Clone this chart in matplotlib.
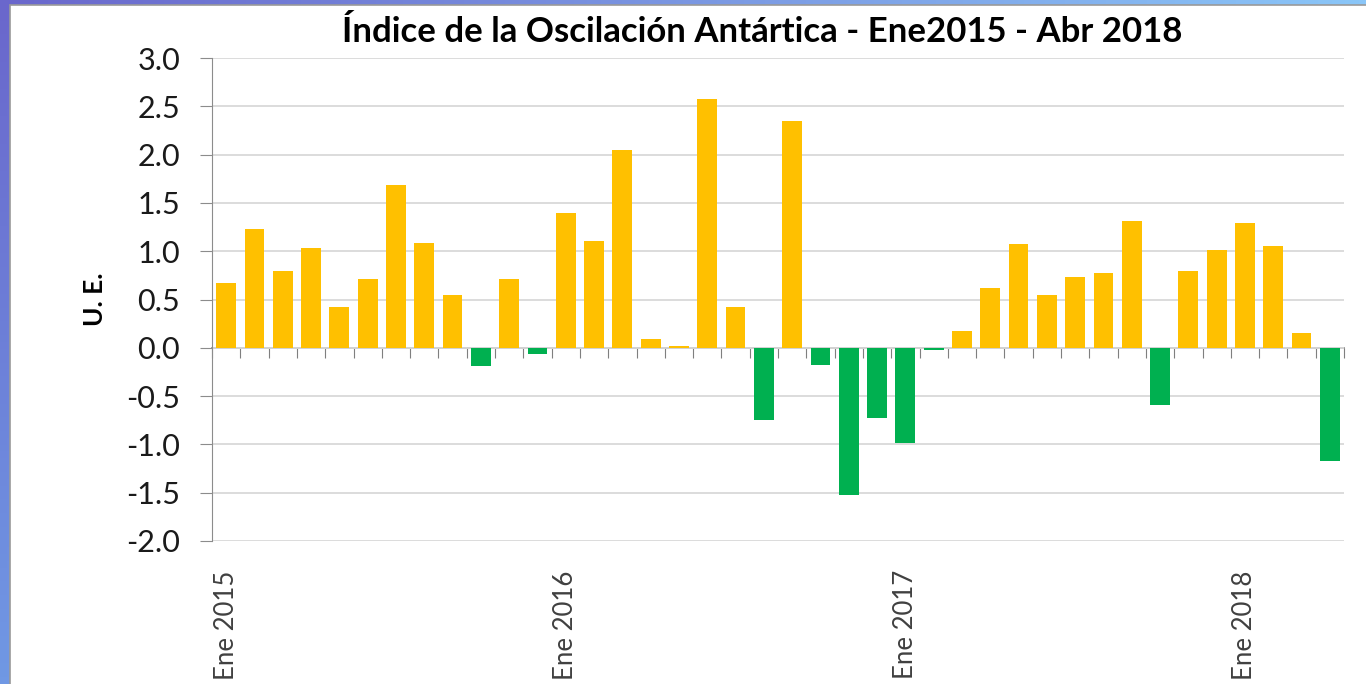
import numpy as np
import matplotlib
matplotlib.use('Agg')
import matplotlib.pyplot as plt
from matplotlib.patches import Rectangle

# monthly Antarctic Oscillation index, Jan 2015 - Apr 2018
months = ['Ene 2015', 'Feb 2015', 'Mar 2015', 'Abr 2015', 'May 2015', 'Jun 2015',
          'Jul 2015', 'Ago 2015', 'Sep 2015', 'Oct 2015', 'Nov 2015', 'Dic 2015',
          'Ene 2016', 'Feb 2016', 'Mar 2016', 'Abr 2016', 'May 2016', 'Jun 2016',
          'Jul 2016', 'Ago 2016', 'Sep 2016', 'Oct 2016', 'Nov 2016', 'Dic 2016',
          'Ene 2017', 'Feb 2017', 'Mar 2017', 'Abr 2017', 'May 2017', 'Jun 2017',
          'Jul 2017', 'Ago 2017', 'Sep 2017', 'Oct 2017', 'Nov 2017', 'Dic 2017',
          'Ene 2018', 'Feb 2018', 'Mar 2018', 'Abr 2018']
aao = [0.67, 1.23, 0.79, 1.03, 0.42, 0.71, 1.69, 1.08, 0.55, -0.19, 0.71, -0.06,
       1.40, 1.11, 2.05, 0.09, 0.02, 2.58, 0.42, -0.75, 2.35, -0.18, -1.52, -0.73,
       -0.99, -0.02, 0.17, 0.62, 1.07, 0.55, 0.73, 0.77, 1.31, -0.59, 0.79, 1.01,
       1.29, 1.05, 0.15, -1.17]
yticks = [-2.0, -1.5, -1.0, -0.5, 0.0, 0.5, 1.0, 1.5, 2.0, 2.5, 3.0]

W, H = 1366, 684
fig = plt.figure(figsize=(W / 100, H / 100), dpi=100)

# blue gradient frame behind a white panel
bg = fig.add_axes([0, 0, 1, 1])
c_tl = np.array([0x6a, 0x67, 0xcc]) / 255
c_tr = np.array([0x8a, 0xc6, 0xf8]) / 255
c_bl = np.array([0x70, 0x98, 0xe4]) / 255
xx, yy = np.meshgrid(np.linspace(0, 1, 200), np.linspace(0, 1, 100))
grad = c_tl + (c_tr - c_tl) * xx[..., None] + (c_bl - c_tl) * yy[..., None]
bg.imshow(np.clip(grad, 0, 1), extent=[0, W, H, 0], aspect='auto')
bg.add_patch(Rectangle((10, 5), W, H, facecolor='white', edgecolor='#9a9a9a', lw=1.2))
bg.set_xlim(0, W)
bg.set_ylim(H, 0)
bg.axis('off')

ax = fig.add_axes([212 / W, 1 - 541 / H, (1344 - 212) / W, (541 - 58) / H])
ax.set_facecolor('none')
x = np.arange(len(aao))
colors = ['#ffc000' if v >= 0 else '#00b050' for v in aao]
ax.bar(x, aao, width=0.7, color=colors, zorder=3)

ax.set_xlim(-0.5, len(aao) - 0.5)
ax.set_ylim(-2, 3)
ax.set_yticks(yticks)
ax.set_yticklabels(['%.1f' % v for v in yticks])
ax.yaxis.grid(True, color='#d9d9d9', lw=1.3, zorder=0)
for s in ['top', 'right', 'bottom']:
    ax.spines[s].set_visible(False)
ax.spines['left'].set_color('#8c8c8c')
ax.tick_params(axis='y', length=9, color='#8c8c8c', pad=14, labelsize=22,
               labelcolor='#1a1a1a')
for lab in ax.get_yticklabels():
    lab.set_family('Lato')

# year labels only at January
jan = [i for i, m in enumerate(months) if m.startswith('Ene')]
ax.set_xticks(jan)
ax.set_xticklabels([months[i] for i in jan], rotation=90, fontsize=18.5,
                   color='#404040', family='Lato', va='top')
ax.tick_params(axis='x', length=0, pad=21)

# category axis crossing at zero
zero = ax.secondary_xaxis(2 / 5)
zero.set_xticks(np.arange(len(aao) + 1) - 0.5)
zero.tick_params(axis='x', direction='out', length=7, color='#7f7f7f',
                 labelbottom=False, labeltop=False)
zero.spines['bottom'].set_color('#7f7f7f')
zero.spines['bottom'].set_linewidth(1.2)

ax.set_ylabel('U. E.', fontsize=19, fontweight='bold', family='Lato', labelpad=14)

fig.text(762 / W, 1 - 32 / H, 'Índice de la Oscilación Antártica - Ene2015 - Abr 2018',
         ha='center', va='center', fontsize=25, fontweight='bold', family='Lato')

fig.savefig('out.png', dpi=100)
